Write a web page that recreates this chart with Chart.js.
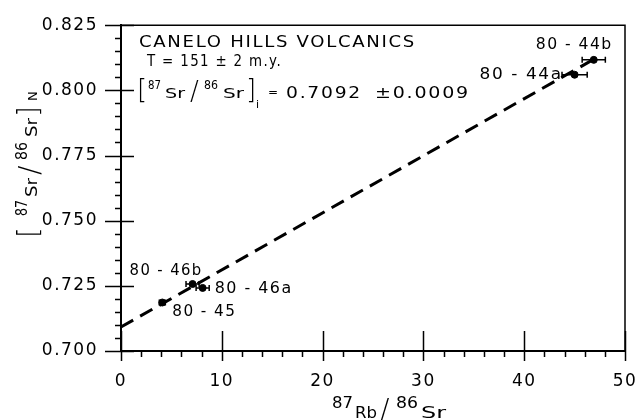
<!DOCTYPE html>
<html>
<head>
<meta charset="utf-8">
<script src="https://cdn.jsdelivr.net/npm/chart.js@4"></script>
<style>
  html, body { margin: 0; padding: 0; background: #fff; }
  #wrap { width: 640px; height: 420px; }
</style>
</head>
<body>
<div id="wrap"><canvas id="isochron" width="640" height="420"></canvas></div>
<script>
// Samples
const sampleNames = ['80-45', '80-46b', '80-46a', '80-44a', '80-44b'];
const rbSr = [4.1, 7.1, 8.1, 45.0, 46.9];          // 87Rb/86Sr
const srSr = [0.7186, 0.7257, 0.7242, 0.8060, 0.8117]; // 87Sr/86Sr
const rbSrErr = [0.3, 0.65, 0.65, 1.25, 1.15];      // horizontal error

// Isochron end points
const isoX = [0, 47.3];
const isoY = [0.7092, 0.8128];

// Axis ticks
const xTicks = [0, 10, 20, 30, 40, 50];
const yTicks = [0.700, 0.725, 0.750, 0.775, 0.800, 0.825];
const xMinorStep = 2;
const yMinorStep = 0.005;

const FONT = '"DejaVu Sans", sans-serif';

// draw text stretched to a target width (the lettering is wider than DejaVu)
function fitText(ctx, str, x, y, size, width) {
    ctx.font = size + 'px ' + FONT;
    ctx.letterSpacing = str.length > 2 ? '1.5px' : '0px';
    const w = ctx.measureText(str).width;
    ctx.save();
    ctx.translate(x, y);
    if (width) ctx.scale(width / w, 1);
    ctx.fillText(str, 0, 0);
    ctx.restore();
    ctx.letterSpacing = '0px';
}

// thin glyphs (brackets, slashes) in a light weight
function thinText(ctx, str, x, y, size) {
    ctx.font = '200 ' + size + 'px ' + FONT;
    ctx.fillText(str, x, y);
}

// label offsets in pixels from each point: dx, dy, width
const labelOffset = [[10, 9, 64], [-63, -13, 73], [12, 1, 78], [-95, 0, 83], [-58, -15, 77]];

const framePlugin = {
    id: 'frame',
    beforeDraw(chart) {
        // a little spacing for the tick labels, like the hand lettering
        chart.ctx.letterSpacing = '1.5px';
    },
    afterDraw(chart) {
        const ctx = chart.ctx;
        const a = chart.chartArea;
        const x = chart.scales.x, y = chart.scales.y;
        ctx.save();
        ctx.letterSpacing = '0px';
        ctx.strokeStyle = '#000';
        ctx.fillStyle = '#000';

        // top and right border
        ctx.lineWidth = 1.5;
        ctx.beginPath();
        ctx.moveTo(a.left, a.top);
        ctx.lineTo(a.right, a.top);
        ctx.lineTo(a.right, a.bottom);
        ctx.stroke();

        // tick marks
        ctx.beginPath();
        for (let v = yTicks[0]; v <= yTicks[yTicks.length - 1] + 1e-9; v += yMinorStep) {
            const py = Math.round(y.getPixelForValue(v)) + 0.5;
            const major = yTicks.some(t => Math.abs(t - v) < 1e-6);
            ctx.moveTo(a.left - (major ? 16 : 6), py);
            ctx.lineTo(a.left + (major ? 13 : 0), py);
        }
        for (let v = xTicks[0]; v <= xTicks[xTicks.length - 1]; v += xMinorStep) {
            const px = Math.round(x.getPixelForValue(v)) + 0.5;
            const major = xTicks.includes(v);
            ctx.moveTo(px, a.bottom - (major ? 20 : 0));
            ctx.lineTo(px, a.bottom + (major ? 10 : 6));
        }
        ctx.stroke();

        // error bars
        ctx.beginPath();
        rbSr.forEach((v, i) => {
            const py = y.getPixelForValue(srSr[i]);
            const x0 = x.getPixelForValue(v - rbSrErr[i]);
            const x1 = x.getPixelForValue(v + rbSrErr[i]);
            ctx.moveTo(x0, py); ctx.lineTo(x1, py);
            ctx.moveTo(x0, py - 3); ctx.lineTo(x0, py + 3);
            ctx.moveTo(x1, py - 3); ctx.lineTo(x1, py + 3);
        });
        ctx.stroke();

        // sample labels
        ctx.textBaseline = 'middle';
        ctx.textAlign = 'left';
        sampleNames.forEach((name, i) => {
            const px = x.getPixelForValue(rbSr[i]);
            const py = y.getPixelForValue(srSr[i]);
            const o = labelOffset[i];
            fitText(ctx, name.replace('-', ' - '), px + o[0], py + o[1], 16, o[2]);
        });

        // annotation block
        ctx.textBaseline = 'alphabetic';
        fitText(ctx, 'CANELO HILLS VOLCANICS', 139, 47, 16, 277);
        fitText(ctx, 'T = 151 ± 2 m.y.', 147, 66, 15, 135);
        thinText(ctx, '[', 137, 98, 26);
        fitText(ctx, '87', 148, 89, 12, 13);
        fitText(ctx, 'Sr', 165, 98, 14, 20);
        thinText(ctx, '/', 190, 100, 26);
        fitText(ctx, '86', 204, 89, 12, 14);
        fitText(ctx, 'Sr', 223, 98, 14, 21);
        thinText(ctx, ']', 246, 98, 26);
        fitText(ctx, 'i', 256, 108, 11, 0);
        fitText(ctx, '=', 268, 96, 12, 0);
        fitText(ctx, '0.7092', 286, 98, 16, 76);
        fitText(ctx, '±0.0009', 375, 98, 16, 95);

        // x axis title
        fitText(ctx, '87', 332, 408, 16, 21);
        fitText(ctx, 'Rb', 355, 418, 16, 22);
        thinText(ctx, '/', 380, 419, 28);
        fitText(ctx, '86', 396, 408, 16, 22);
        fitText(ctx, 'Sr', 421, 418, 16, 25);

        // y axis title, rotated
        ctx.rotate(-Math.PI / 2);
        thinText(ctx, '[', -238, 38, 28);
        fitText(ctx, '87', -216, 27, 15, 16);
        fitText(ctx, 'Sr', -197, 37, 16, 19);
        thinText(ctx, '/', -175, 39, 28);
        fitText(ctx, '86', -160, 27, 15, 18);
        fitText(ctx, 'Sr', -137, 37, 16, 19);
        thinText(ctx, ']', -117, 38, 28);
        fitText(ctx, 'N', -101, 37, 13, 0);
        ctx.restore();
    }
};

const ctx = document.getElementById('isochron').getContext('2d');
new Chart(ctx, {
    type: 'scatter',
    data: {
        datasets: [
            {
                type: 'line',
                data: isoX.map((v, i) => ({ x: v, y: isoY[i] })),
                borderColor: '#000',
                borderWidth: 3,
                borderDash: [14, 8],
                pointRadius: 0,
                fill: false
            },
            {
                data: rbSr.map((v, i) => ({ x: v, y: srSr[i] })),
                pointRadius: 3.5,
                backgroundColor: '#000',
                borderColor: '#000'
            }
        ]
    },
    options: {
        responsive: false,
        animation: false,
        layout: { padding: { top: 22, right: 15, left: 0, bottom: 0 } },
        plugins: { legend: { display: false }, tooltip: { enabled: false } },
        scales: {
            x: {
                type: 'linear',
                min: xTicks[0],
                max: xTicks[xTicks.length - 1],
                afterBuildTicks: s => { s.ticks = xTicks.map(v => ({ value: v })); },
                afterFit: s => { s.height = 69; s.paddingLeft = 0; s.paddingRight = 0; },
                grid: { display: false },
                border: { color: '#000', width: 2 },
                ticks: { color: '#000', font: { family: FONT, size: 17 }, padding: 12, maxRotation: 0 }
            },
            y: {
                type: 'linear',
                min: yTicks[0],
                max: yTicks[yTicks.length - 1],
                afterBuildTicks: s => { s.ticks = yTicks.map(v => ({ value: v })); },
                afterFit: s => { s.width = 121; },
                grid: { display: false },
                border: { color: '#000', width: 2 },
                ticks: {
                    color: '#000',
                    font: { family: FONT, size: 17 },
                    padding: 15,
                    callback: v => v.toFixed(3)
                }
            }
        }
    },
    plugins: [framePlugin]
});
</script>
</body>
</html>
